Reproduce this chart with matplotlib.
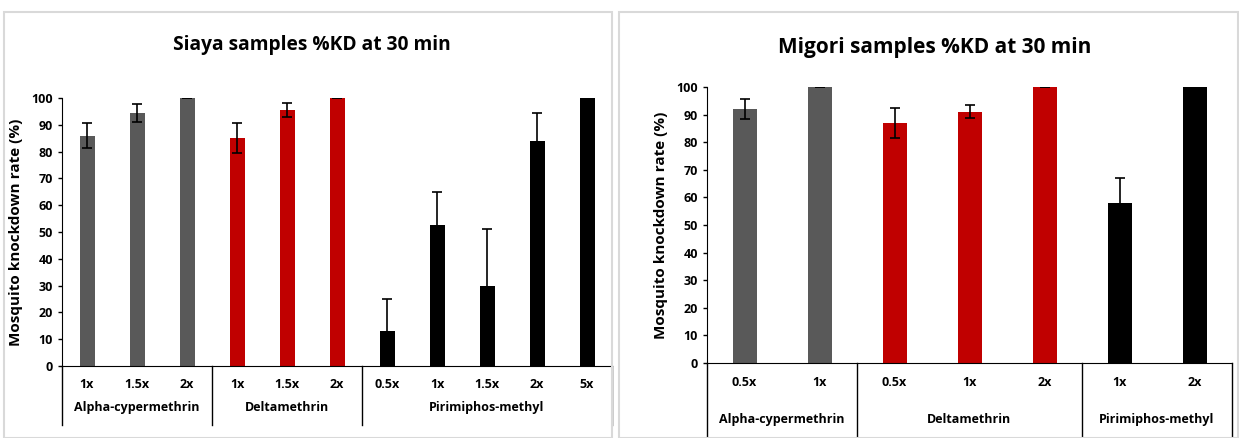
import matplotlib.pyplot as plt
from matplotlib.patches import Rectangle

plt.rcParams['font.family'] = ['Open Sans', 'DejaVu Sans']
plt.rcParams['font.weight'] = 'bold'

# Siaya
siaya_groups = ['Alpha-cypermethrin', 'Deltamethrin', 'Pirimiphos-methyl']
siaya_doses = [['1x', '1.5x', '2x'], ['1x', '1.5x', '2x'], ['0.5x', '1x', '1.5x', '2x', '5x']]
siaya_kd = [[86, 94.5, 100], [85, 95.5, 100], [13, 52.5, 30, 84, 100]]
siaya_err = [[4.6, 3.3, 0], [5.5, 2.7, 0], [12, 12.5, 21, 10.5, 0]]

# Migori
migori_groups = ['Alpha-cypermethrin', 'Deltamethrin', 'Pirimiphos-methyl']
migori_doses = [['0.5x', '1x'], ['0.5x', '1x', '2x'], ['1x', '2x']]
migori_kd = [[92, 100], [87, 91, 100], [58, 100]]
migori_err = [[3.5, 0], [5.3, 2.3, 0], [9, 0]]

group_colors = ['#595959', '#C00000', '#000000']


def draw_panel(ax, title, title_x, title_y, title_size, groups, doses, kd, err, width,
               lab_y, grp_y, line_bottom):
    x = 0
    bounds = [-0.5]
    xt = ax.get_xaxis_transform()
    for g, (dd, vals, ee) in enumerate(zip(doses, kd, err)):
        for d, v, e in zip(dd, vals, ee):
            ax.bar(x, v, width=width, color=group_colors[g], zorder=2)
            ax.errorbar(x, v, yerr=e, fmt='none', ecolor='black', elinewidth=1.2,
                        capsize=3.5, capthick=1.2, zorder=3)
            ax.text(x, lab_y, d, transform=xt, ha='center', va='center',
                    fontsize=9, fontweight='bold')
            x += 1
        mid = x - len(dd) / 2 - 0.5
        ax.text(mid, grp_y, groups[g], transform=xt, ha='center', va='center',
                fontsize=9, fontweight='bold')
        bounds.append(x - 0.5)
    for b in bounds:
        ax.plot([b, b], [0, line_bottom], transform=xt, color='black', lw=1, clip_on=False)
    ax.set_xlim(-0.5, x - 0.5)
    ax.set_ylim(0, 100)
    ax.set_yticks(range(0, 101, 10))
    ax.set_xticks([])
    ax.tick_params(axis='y', labelsize=9, length=3, width=1)
    for t in ax.get_yticklabels():
        t.set_fontweight('bold')
    ax.spines['top'].set_visible(False)
    ax.spines['right'].set_visible(False)
    ax.set_ylabel('Mosquito knockdown rate (%)', fontsize=11, fontweight='bold', labelpad=6)
    ax.figure.text(title_x, title_y, title, ha='center', va='center', fontsize=title_size,
                   fontweight='bold')


fig = plt.figure(figsize=(12.39, 4.38), dpi=100)
fig.patches.append(Rectangle((4 / 1239, 0), 608 / 1239, 1 - 12 / 438, transform=fig.transFigure,
                             fill=False, edgecolor='#d9d9d9', lw=1.5))
fig.patches.append(Rectangle((619 / 1239, 0), 619 / 1239, 1 - 12 / 438, transform=fig.transFigure,
                             fill=False, edgecolor='#d9d9d9', lw=1.5))

ax_left = fig.add_axes([62 / 1239, 1 - 366 / 438, 550 / 1239, 268 / 438])
ax_right = fig.add_axes([707 / 1239, 1 - 363 / 438, 525 / 1239, 276 / 438])

draw_panel(ax_left, 'Siaya samples %KD at 30 min', 312 / 1239, 1 - 45 / 438, 13.8,
           siaya_groups, siaya_doses, siaya_kd, siaya_err, 0.3, -0.068, -0.155, -0.22)
draw_panel(ax_right, 'Migori samples %KD at 30 min', 935 / 1239, 1 - 47 / 438, 15,
           migori_groups, migori_doses, migori_kd, migori_err, 0.32, -0.072, -0.205, -0.28)

fig.savefig('out.png', dpi=100)
